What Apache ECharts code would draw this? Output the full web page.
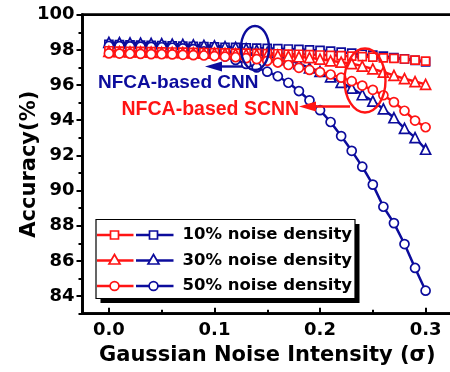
<!DOCTYPE html>
<html>
<head>
<meta charset="utf-8">
<style>
html,body{margin:0;padding:0;background:#fff;}
#chart{width:450px;height:372px;}
</style>
<script src="https://cdn.jsdelivr.net/npm/echarts@6/dist/echarts.min.js"></script>
</head>
<body>
<div id="chart"></div>
<script>
// ---- data ----
const sigma = [0.00,0.01,0.02,0.03,0.04,0.05,0.06,0.07,0.08,0.09,0.10,0.11,0.12,0.13,0.14,0.15,0.16,0.17,0.18,0.19,0.20,0.21,0.22,0.23,0.24,0.25,0.26,0.27,0.28,0.29,0.30];
const cnn10  = [98.32,98.30,98.29,98.27,98.26,98.24,98.23,98.21,98.20,98.18,98.17,98.15,98.14,98.12,98.10,98.09,98.07,98.05,98.03,98.00,97.97,97.93,97.87,97.81,97.75,97.70,97.65,97.56,97.49,97.40,97.31];
const cnn30  = [98.42,98.41,98.40,98.38,98.37,98.35,98.33,98.31,98.29,98.26,98.23,98.19,98.14,98.07,97.98,97.86,97.70,97.45,97.22,96.98,96.77,96.47,96.15,95.83,95.45,95.09,94.64,94.14,93.54,93.01,92.35];
const cnn50  = [98.22,98.21,98.20,98.19,98.17,98.15,98.12,98.09,98.04,97.92,97.78,97.62,97.43,97.20,97.00,96.76,96.50,96.13,95.66,95.13,94.57,93.90,93.10,92.26,91.36,90.34,89.08,88.15,86.96,85.60,84.31];
const scnn10 = [97.95,97.93,97.92,97.91,97.90,97.89,97.88,97.87,97.86,97.85,97.84,97.83,97.82,97.81,97.80,97.79,97.78,97.76,97.75,97.73,97.71,97.69,97.67,97.64,97.62,97.59,97.55,97.52,97.48,97.42,97.36];
const scnn30 = [97.92,97.90,97.89,97.88,97.87,97.86,97.85,97.84,97.83,97.82,97.81,97.80,97.78,97.76,97.74,97.72,97.69,97.65,97.61,97.56,97.47,97.38,97.30,97.22,97.08,96.92,96.74,96.55,96.36,96.20,96.04];
const scnn50 = [97.80,97.79,97.78,97.77,97.76,97.75,97.74,97.72,97.70,97.68,97.65,97.62,97.58,97.53,97.47,97.38,97.28,97.14,96.98,96.86,96.74,96.60,96.42,96.22,95.97,95.73,95.42,95.03,94.54,93.98,93.60];
const xTicks = [0, 0.1, 0.2, 0.3];
const xMinorTicks = [0.05, 0.15, 0.25];
const yTicks = [84, 86, 88, 90, 92, 94, 96, 98, 100];
const yMinorTicks = [83, 85, 87, 89, 91, 93, 95, 97, 99];
const legendLabels = ['10% noise density', '30% noise density', '50% noise density'];
const annCNN = 'NFCA-based CNN';
const annSCNN = 'NFCA-based SCNN';

const BLUE = '#0c0c9c';
const RED = '#ff1414';
const FONT = 'DejaVu Sans';

function pairs(ys){ return sigma.map((s,i)=>[s, ys[i]]); }

function mkSeries(name, ys, color, symbol, size){
  return {
    name, type:'line', data: pairs(ys), xAxisIndex:0, yAxisIndex:0,
    symbol, symbolSize:size, showAllSymbol:true,
    lineStyle:{color, width:2.5},
    itemStyle:{color:'#fff', borderColor:color, borderWidth:1.7},
    emphasis:{disabled:true}, animation:false
  };
}

const chart = echarts.init(document.getElementById('chart'));

// legend graphic
const lg = [];
const boxX = 96, boxY = 219.5, boxW = 259, boxH = 79;
lg.push({type:'rect', shape:{x:boxX+4.5, y:boxY+4.5, width:boxW, height:boxH}, style:{fill:'#000'}, z:100});
lg.push({type:'rect', shape:{x:boxX, y:boxY, width:boxW, height:boxH}, style:{fill:'#fff', stroke:'#000', lineWidth:1.2}, z:101});
const rowsY = [235, 260.5, 286];
const syms = ['rect','triangle','circle'];
function markerShape(kind, cx, cy, color){
  const st = {fill:'#fff', stroke:color, lineWidth:1.7};
  if(kind==='rect') return {type:'rect', shape:{x:cx-4, y:cy-4, width:8, height:8}, style:st, z:103};
  if(kind==='circle') return {type:'circle', shape:{cx, cy, r:4.4}, style:st, z:103};
  return {type:'polygon', shape:{points:[[cx,cy-6],[cx+5.5,cy+3.5],[cx-5.5,cy+3.5]]}, style:st, z:103};
}
rowsY.forEach((y,i)=>{
  lg.push({type:'line', shape:{x1:boxX+1, y1:y, x2:133.5, y2:y}, style:{stroke:RED, lineWidth:2.5}, z:102});
  lg.push(markerShape(syms[i], 114.5, y, RED));
  lg.push({type:'line', shape:{x1:136, y1:y, x2:173.5, y2:y}, style:{stroke:BLUE, lineWidth:2.5}, z:102});
  lg.push(markerShape(syms[i], 153.5, y, BLUE));
  lg.push({type:'text', x:182.5, y:y, style:{text:legendLabels[i], font:'bold 16.5px "DejaVu Sans"', fill:'#000', textVerticalAlign:'middle', textAlign:'left'}, z:103});
});

// annotations
const ann = [
  {type:'ellipse', shape:{cx:255, cy:48, rx:14, ry:22}, style:{fill:'none', stroke:BLUE, lineWidth:2.4}, z:90},
  {type:'line', shape:{x1:243, y1:66.5, x2:218, y2:66.5}, style:{stroke:BLUE, lineWidth:2.4}, z:90},
  {type:'polygon', shape:{points:[[205,66.5],[222,61.5],[222,71.5]]}, style:{fill:BLUE}, z:90},
  {type:'text', x:98, y:83, style:{text:annCNN, font:'bold 19px "Liberation Sans"', fill:BLUE, textVerticalAlign:'middle'}, z:90},
  {type:'ellipse', shape:{cx:365, cy:80.5, rx:20.5, ry:32}, style:{fill:'none', stroke:RED, lineWidth:2.4}, z:90},
  {type:'line', shape:{x1:350, y1:106.5, x2:312, y2:106.5}, style:{stroke:RED, lineWidth:2.4}, z:90},
  {type:'polygon', shape:{points:[[299,106.5],[316,101.5],[316,111.5]]}, style:{fill:RED}, z:90},
  {type:'text', x:121.5, y:109.5, style:{text:annSCNN, font:'bold 19.5px "Liberation Sans"', fill:RED, textVerticalAlign:'middle'}, z:90}
];

const axisFont = {fontFamily:FONT, fontWeight:'bold', fontSize:18, color:'#000'};

chart.setOption({
  animation:false,
  grid:{left:82.5, top:14.7, width:369.5, height:299, show:true, borderColor:'#000', borderWidth:2.7, backgroundColor:'transparent', containLabel:false, outerBoundsMode:'none'},
  xAxis:[
    {type:'value', min:-0.025, max:0.325, position:'bottom',
     axisLine:{show:true, onZero:false, lineStyle:{color:'#000', width:2.7}},
     axisTick:{show:true, inside:true, length:6, lineStyle:{color:'#000', width:2}, customValues:xTicks},
     axisLabel:{...axisFont, margin:8, customValues:xTicks, formatter:v=>v.toFixed(1)},
     splitLine:{show:false},
     name:'Gaussian Noise Intensity (σ)', nameLocation:'middle', nameGap:30,
     nameTextStyle:{fontFamily:FONT, fontWeight:'bold', fontSize:21, color:'#000'}},
    {type:'value', min:-0.025, max:0.325, position:'bottom',
     axisLine:{show:false, onZero:false},
     axisTick:{show:true, inside:true, length:4, lineStyle:{color:'#000', width:2}, customValues:xMinorTicks},
     axisLabel:{show:false}, splitLine:{show:false}}
  ],
  yAxis:[
    {type:'value', min:83, max:100, position:'left',
     axisLine:{show:true, onZero:false, lineStyle:{color:'#000', width:2.7}},
     axisTick:{show:true, inside:false, length:6, lineStyle:{color:'#000', width:2}, customValues:yTicks},
     axisLabel:{...axisFont, margin:8, customValues:yTicks},
     splitLine:{show:false},
     name:'Accuracy(%)', nameLocation:'middle', nameGap:42, nameMoveOverlap:false,
     nameTextStyle:{fontFamily:FONT, fontWeight:'bold', fontSize:21, color:'#000'}},
    {type:'value', min:83, max:100, position:'left',
     axisLine:{show:false, onZero:false},
     axisTick:{show:true, inside:false, length:4, lineStyle:{color:'#000', width:2}, customValues:yMinorTicks},
     axisLabel:{show:false}, splitLine:{show:false}}
  ],
  series:[
    mkSeries('CNN 10%', cnn10, BLUE, 'rect', 8),
    mkSeries('CNN 30%', cnn30, BLUE, 'triangle', 10),
    mkSeries('CNN 50%', cnn50, BLUE, 'circle', 9),
    mkSeries('SCNN 10%', scnn10, RED, 'rect', 8),
    mkSeries('SCNN 30%', scnn30, RED, 'triangle', 10),
    mkSeries('SCNN 50%', scnn50, RED, 'circle', 9)
  ],
  graphic: ann.concat(lg)
});
</script>
</body>
</html>
